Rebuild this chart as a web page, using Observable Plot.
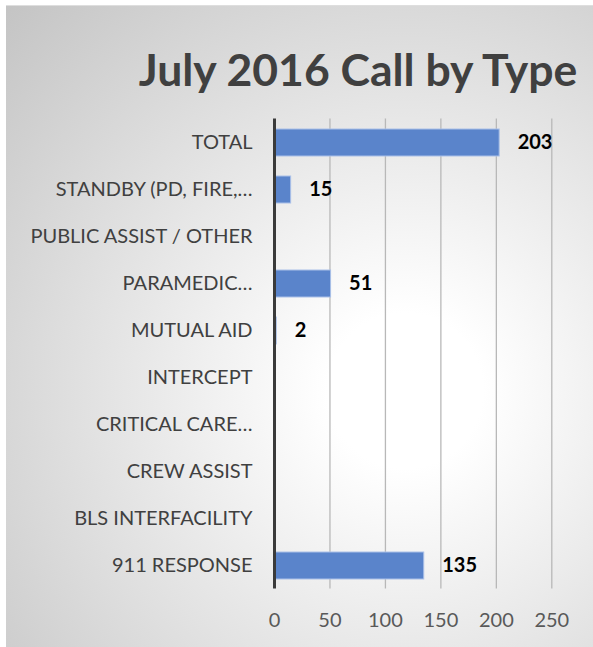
<!DOCTYPE html>
<html>
<head>
<meta charset="utf-8">
<script src="https://cdn.jsdelivr.net/npm/d3@7"></script>
<script src="https://cdn.jsdelivr.net/npm/@observablehq/plot@0.6"></script>
<style>
  html, body { margin: 0; padding: 0; background: #ffffff; }
  #frame {
    position: absolute; left: 6px; top: 5px; width: 587px; height: 642px;
    background: radial-gradient(circle farthest-corner at 68% 60%, #ffffff 0%, #ffffff 14%, #c4c4c4 100%);
    border-top: 1px solid #dedede;
    box-sizing: border-box;
    overflow: hidden;
  }
  #title {
    position: absolute; left: 352px; top: 41px; transform: translateX(-50%);
    white-space: nowrap; font-family: Lato, sans-serif; font-weight: bold;
    font-size: 44.5px; color: #404040; line-height: 1;
  }
  #chart { position: absolute; left: 0; top: 95px; }
</style>
</head>
<body>
<div id="frame">
  <div id="title">July 2016 Call by Type</div>
  <div id="chart"></div>
</div>
<script>
const categories = [
  "TOTAL",
  "STANDBY (PD, FIRE,…",
  "PUBLIC ASSIST / OTHER",
  "PARAMEDIC…",
  "MUTUAL AID",
  "INTERCEPT",
  "CRITICAL CARE…",
  "CREW ASSIST",
  "BLS INTERFACILITY",
  "911 RESPONSE"
];
const calls = [203, 15, 0, 51, 2, 0, 0, 0, 0, 135];
const xTicks = [0, 50, 100, 150, 200, 250];

const data = categories.map((c, i) => ({category: c, value: calls[i]}));

const chart = Plot.plot({
  width: 587,
  height: 547,
  marginLeft: 268,
  marginRight: 41.7,
  marginTop: 17.5,
  marginBottom: 59.5,
  style: {background: "transparent", fontFamily: "Lato, sans-serif"},
  x: {domain: [0, 250], ticks: xTicks},
  y: {domain: categories, paddingInner: 0.43, paddingOuter: 0.215},
  marks: [
    Plot.gridX(xTicks.filter(d => d > 0), {stroke: "#b8b8b8", strokeOpacity: 1, strokeWidth: 1.3}),
    Plot.barX(data, {x: "value", y: "category", fill: "#5a84cb", stroke: "#aac0e8", strokeWidth: 1}),
    Plot.text(data.filter(d => d.value > 0), {
      x: "value", y: "category", text: d => String(d.value), dx: 18,
      textAnchor: "start", fontWeight: "bold", fontSize: 20, fill: "#000000"
    }),
    Plot.ruleX([0], {stroke: "#3a3a3a", strokeWidth: 3}),
    Plot.axisX({ticks: xTicks, tickSize: 0, tickPadding: 24, fontSize: 20, color: "#595959", label: null}),
    Plot.axisY({tickSize: 0, tickPadding: 22, fontSize: 20, color: "#404040", label: null})
  ]
});
document.getElementById("chart").appendChild(chart);
</script>
</body>
</html>
